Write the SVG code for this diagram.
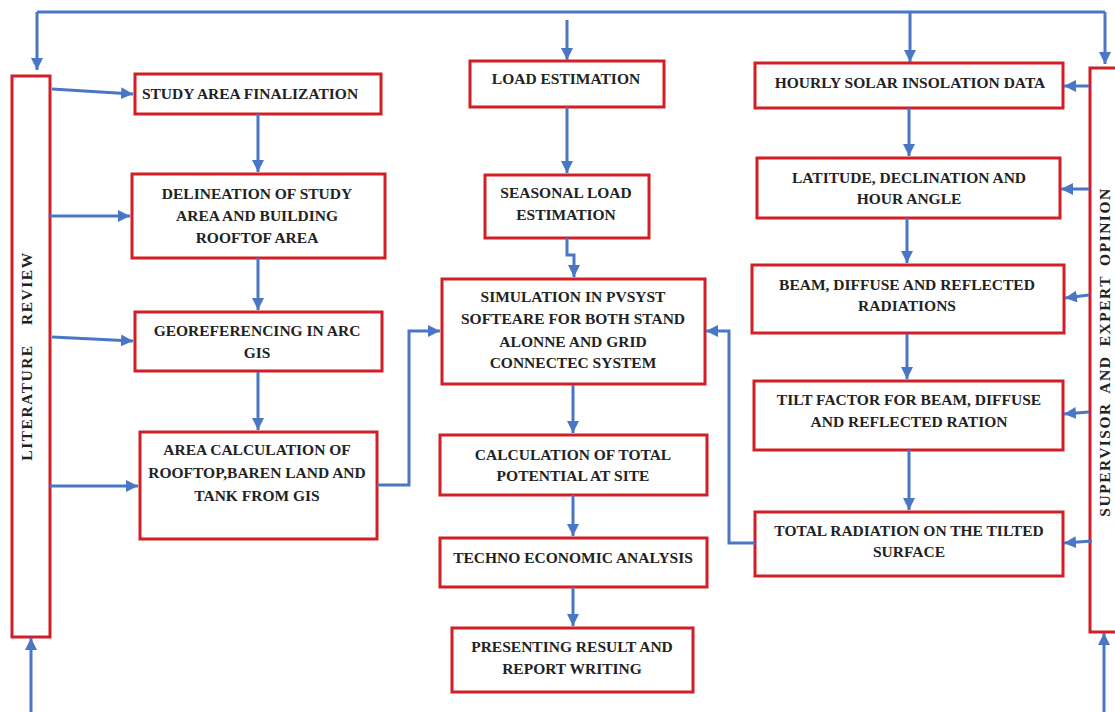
<svg xmlns="http://www.w3.org/2000/svg" width="1115" height="712" viewBox="0 0 1115 712">
<defs>
<marker id="ah" markerUnits="userSpaceOnUse" markerWidth="12" markerHeight="12" refX="10" refY="5" orient="auto" viewBox="0 0 10 10">
<path d="M0,0 L10,5 L0,10 z" fill="#4A76C6"/>
</marker>
<style>
.box{fill:#ffffff;stroke:#D21F26;stroke-width:3}
.t{font-family:"Liberation Serif","Times New Roman",serif;font-weight:bold;font-size:15.5px;fill:#222;text-anchor:middle}
.v{font-family:"Liberation Serif","Times New Roman",serif;font-weight:bold;font-size:15.5px;fill:#222;text-anchor:middle;letter-spacing:1.5px}
.c{fill:none;stroke:#4A76C6;stroke-width:3}
.a{fill:none;stroke:#4A76C6;stroke-width:3;marker-end:url(#ah)}
</style>
</defs>
<rect width="1115" height="712" fill="#ffffff"/>

<g id="literature-review">
<rect class="box" x="12" y="76" width="38" height="561"/>
<text class="v" transform="translate(32,356) rotate(-90)" word-spacing="14">LITERATURE REVIEW</text>
</g>
<g id="supervisor">
<rect class="box" x="1090" y="68" width="30" height="564"/>
<text class="v" transform="translate(1110,352) rotate(-90)" word-spacing="4">SUPERVISOR AND EXPERT OPINION</text>
</g>

<g id="study-area">
<rect class="box" x="135" y="74" width="246" height="40"/>
<text class="t" x="250" y="99">STUDY AREA FINALIZATION</text>
</g>
<g id="delineation">
<rect class="box" x="132" y="174" width="253" height="84"/>
<text class="t" x="257" y="199">DELINEATION OF STUDY</text>
<text class="t" x="257" y="221">AREA AND BUILDING</text>
<text class="t" x="257" y="243">ROOFTOF AREA</text>
</g>
<g id="georeferencing">
<rect class="box" x="135" y="312" width="247" height="59"/>
<text class="t" x="257" y="336">GEOREFERENCING IN ARC</text>
<text class="t" x="257" y="358">GIS</text>
</g>
<g id="area-calc">
<rect class="box" x="140" y="432" width="237" height="107"/>
<text class="t" x="257" y="455">AREA CALCULATION OF</text>
<text class="t" x="257" y="478">ROOFTOP,BAREN LAND AND</text>
<text class="t" x="257" y="501">TANK FROM GIS</text>
</g>

<g id="load-estimation">
<rect class="box" x="470" y="61" width="194" height="46"/>
<text class="t" x="566" y="84">LOAD ESTIMATION</text>
</g>
<g id="seasonal-load">
<rect class="box" x="485" y="175" width="164" height="63"/>
<text class="t" x="566" y="198">SEASONAL LOAD</text>
<text class="t" x="566" y="220">ESTIMATION</text>
</g>
<g id="simulation">
<rect class="box" x="442" y="279" width="263" height="105"/>
<text class="t" x="573" y="302">SIMULATION IN PVSYST</text>
<text class="t" x="573" y="324">SOFTEARE FOR BOTH STAND</text>
<text class="t" x="573" y="347">ALONNE AND GRID</text>
<text class="t" x="573" y="368">CONNECTEC SYSTEM</text>
</g>
<g id="calculation">
<rect class="box" x="440" y="435" width="267" height="60"/>
<text class="t" x="573" y="460">CALCULATION OF TOTAL</text>
<text class="t" x="573" y="481">POTENTIAL AT SITE</text>
</g>
<g id="techno">
<rect class="box" x="440" y="538" width="267" height="49"/>
<text class="t" x="573" y="563">TECHNO ECONOMIC ANALYSIS</text>
</g>
<g id="presenting">
<rect class="box" x="452" y="628" width="241" height="64"/>
<text class="t" x="572" y="652">PRESENTING RESULT AND</text>
<text class="t" x="572" y="674">REPORT WRITING</text>
</g>

<g id="hourly">
<rect class="box" x="755" y="63" width="308" height="45"/>
<text class="t" x="910" y="88">HOURLY SOLAR INSOLATION DATA</text>
</g>
<g id="latitude">
<rect class="box" x="757" y="158" width="303" height="60"/>
<text class="t" x="909" y="183">LATITUDE, DECLINATION AND</text>
<text class="t" x="909" y="204">HOUR ANGLE</text>
</g>
<g id="beam">
<rect class="box" x="752" y="265" width="312" height="68"/>
<text class="t" x="907" y="290">BEAM, DIFFUSE AND REFLECTED</text>
<text class="t" x="907" y="311">RADIATIONS</text>
</g>
<g id="tilt">
<rect class="box" x="754" y="381" width="309" height="69"/>
<text class="t" x="909" y="405">TILT FACTOR FOR BEAM, DIFFUSE</text>
<text class="t" x="909" y="427">AND REFLECTED RATION</text>
</g>
<g id="total-radiation">
<rect class="box" x="755" y="512" width="308" height="64"/>
<text class="t" x="909" y="536">TOTAL RADIATION ON THE TILTED</text>
<text class="t" x="909" y="557">SURFACE</text>
</g>

<g id="connectors">
<path class="c" d="M37,12 H1105"/>
<path class="a" d="M37,12 V70"/>
<path class="a" d="M910,12 V62"/>
<path class="a" d="M1105,12 V64"/>
<path class="a" d="M567,20 V60"/>
<path class="a" d="M52,89 L133,94"/>
<path class="a" d="M50,216 H130"/>
<path class="a" d="M52,337 L133,341"/>
<path class="a" d="M50,486 H138"/>
<path class="a" d="M258,114 V172"/>
<path class="a" d="M258,258 V310"/>
<path class="a" d="M258,372 V430"/>
<path class="a" d="M377,485 H409 V331 H440"/>
<path class="a" d="M567,107 V173"/>
<path class="a" d="M567,238 V255 H574 V277"/>
<path class="a" d="M573,385 V433"/>
<path class="a" d="M573,495 V536"/>
<path class="a" d="M573,587 V626"/>
<path class="a" d="M909,108 V156"/>
<path class="a" d="M907,218 V263"/>
<path class="a" d="M907,334 V379"/>
<path class="a" d="M909,450 V510"/>
<path class="a" d="M1089,86 H1064"/>
<path class="a" d="M1089,189 H1061"/>
<path class="a" d="M1089,295 L1065,298"/>
<path class="a" d="M1089,412 L1064,414"/>
<path class="a" d="M1092,541 L1064,543"/>
<path class="a" d="M755,543 H729 V331 H706"/>
<path class="a" d="M31,712 V638"/>
<path class="a" d="M1104,712 V633"/>
</g>
</svg>
